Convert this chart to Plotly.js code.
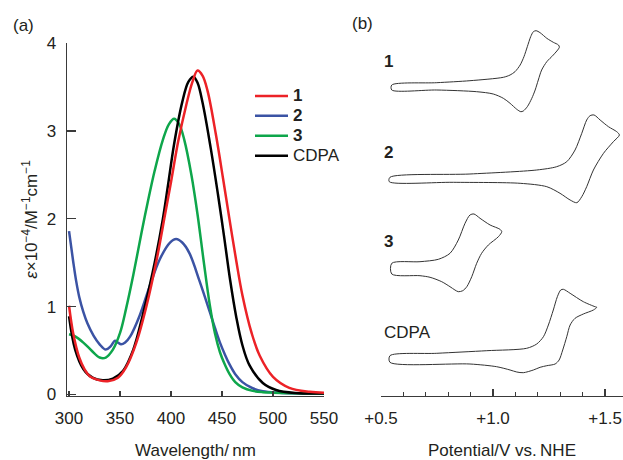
<!DOCTYPE html>
<html><head><meta charset="utf-8">
<script src="https://cdn.plot.ly/plotly-3.0.1.min.js"></script>
<style>html,body{margin:0;padding:0;background:#fff}</style>
</head><body><div id="chart" style="width:623px;height:460px"></div>
<script>
// ---------- Panel (a): absorption spectra (wavelength / nm, epsilon x 10^-4 / M^-1 cm^-1)
const wl1 = [300,304,310,315,320,330,338,348,356,366,376,386,394,400,407,415,421,426,431,436,444,451,457,464,470,479,487,500,516,536,550];
const eps1 = [1.01,0.70,0.42,0.29,0.21,0.16,0.15,0.19,0.31,0.59,1.01,1.54,2.04,2.42,2.88,3.30,3.56,3.69,3.63,3.45,2.96,2.46,2.02,1.52,1.13,0.70,0.44,0.20,0.075,0.03,0.02];
const wl2 = [300,304,307,310,314,318,324,330,336,341,345,348,351,355,360,369,379,389,399,405,411,418,428,438,443,448,453,457,463,470,480,490,506,550];
const eps2 = [1.86,1.52,1.29,1.11,0.94,0.81,0.67,0.57,0.51,0.55,0.61,0.59,0.57,0.59,0.66,0.89,1.23,1.54,1.73,1.77,1.73,1.61,1.29,0.94,0.76,0.59,0.45,0.35,0.23,0.14,0.07,0.035,0.02,0.01];
const wl3 = [300,306,314,322,330,336,343,350,356,363,371,377,384,392,398,403,408,413,420,426,432,438,443,448,452,457,463,470,480,490,500,550];
const eps3 = [0.685,0.66,0.59,0.50,0.42,0.42,0.51,0.70,0.98,1.36,1.84,2.18,2.55,2.90,3.08,3.14,3.08,2.90,2.50,2.05,1.52,1.02,0.70,0.48,0.36,0.24,0.14,0.08,0.04,0.025,0.02,0.01];
const wlC = [300,306,314,323,333,343,353,363,372,382,392,397,403,411,417,422,426,431,439,446,452,458,464,470,477,490,503,522,550];
const epsC = [0.89,0.51,0.29,0.19,0.16,0.18,0.27,0.51,0.89,1.39,2.00,2.38,2.85,3.33,3.56,3.62,3.55,3.32,2.80,2.28,1.80,1.30,0.88,0.56,0.33,0.13,0.05,0.015,0.01];
const seriesNames = ["1","2","3","CDPA"];
const wlTicks = [300,350,400,450,500,550];
const epsTicks = [0,1,2,3,4];

// ---------- Panel (b): cyclic voltammograms (potential / V vs NHE, current in arbitrary stacked units)
const cv1E = [0.548,0.749,0.897,1.046,1.076,1.098,1.121,1.138,1.153,1.168,1.180,1.192,1.210,1.240,1.269,1.292,1.296,1.269,1.240,1.217,1.202,1.188,1.173,1.153,1.135,1.124,1.106,1.076,1.046,1.001,0.927,0.749,0.548,0.548];
const cv1I = [31.07,31.30,31.50,31.84,32.07,32.40,33.07,33.90,34.90,35.90,36.40,36.50,36.30,35.74,35.34,35.07,34.84,34.07,33.40,32.57,31.57,30.57,29.74,28.90,28.47,28.40,28.64,29.24,29.74,30.17,30.40,30.57,30.57,31.07];
const cv2E = [0.540,0.897,1.195,1.284,1.329,1.366,1.396,1.418,1.433,1.451,1.478,1.515,1.552,1.564,1.537,1.493,1.448,1.418,1.396,1.374,1.344,1.299,1.240,1.121,0.823,0.537,0.540];
const cv2I = [21.84,22.17,22.57,22.90,23.40,24.57,26.24,27.57,28.00,28.07,27.57,26.90,26.40,26.07,25.40,24.24,22.57,20.90,19.90,19.30,19.57,20.24,20.90,21.24,21.34,21.40,21.84];
const cv3E = [0.548,0.674,0.756,0.808,0.845,0.875,0.897,0.915,0.942,0.987,1.031,1.039,1.024,0.979,0.949,0.927,0.905,0.883,0.865,0.845,0.830,0.808,0.771,0.719,0.674,0.548,0.548];
const cv3I = [13.24,13.40,13.64,14.24,15.57,17.24,18.07,18.17,17.74,17.07,16.64,16.40,15.90,15.07,14.24,13.24,11.90,10.90,10.50,10.40,10.57,10.90,11.40,11.84,12.00,12.17,13.24];
const cvCE = [0.540,0.749,0.972,1.150,1.195,1.225,1.247,1.269,1.287,1.302,1.314,1.344,1.403,1.455,1.463,1.448,1.403,1.366,1.344,1.329,1.311,1.295,1.277,1.240,1.210,1.180,1.135,1.106,1.076,1.016,0.897,0.540,0.540];
const cvCI = [4.00,4.24,4.50,4.74,5.17,5.90,7.07,8.57,9.90,10.57,10.64,10.24,9.40,8.90,8.84,8.57,8.17,7.74,7.07,5.90,4.57,3.57,3.17,3.00,2.84,2.57,2.30,2.37,2.57,2.90,3.17,3.34,4.00];
const cvLabels = ["1","2","3","CDPA"];
const cvLabelI = [33.4,24.3,15.4,6.3];
const potTicks = [0.5,1.0,1.5];
const potTickText = ["+0.5","+1.0","+1.5"];

const W = 623, H = 460;
const px = x => x / W, py = y => 1 - y / H;
const FONT = "Liberation Sans, Arial, Helvetica, sans-serif";
const TXT = "#231f20", AX = "#3a3a3a";

function legendLabel(n) {
  const t = n === "CDPA" ? n : "<b>" + n + "</b>";
  return '<span style="font-size:17px">' + t + '</span>';
}
function spec(x, y, name, color, rank) {
  return {x, y, name: legendLabel(name), type: "scatter", mode: "lines",
    line: {color, width: 2.5, shape: "spline", smoothing: 1}, xaxis: "x", yaxis: "y", legendrank: rank};
}
function cv(x, y) {
  return {x, y, type: "scatter", mode: "lines", showlegend: false, hoverinfo: "skip",
    line: {color: "#333", width: 1, shape: "spline", smoothing: 0.8}, xaxis: "x2", yaxis: "y2"};
}
const data = [
  spec(wl2, eps2, seriesNames[1], "#3b53a4", 2),
  spec(wl3, eps3, seriesNames[2], "#0ea64b", 3),
  spec(wlC, epsC, seriesNames[3], "#000000", 4),
  spec(wl1, eps1, seriesNames[0], "#ec2227", 1),
  cv(cv1E, cv1I), cv(cv2E, cv2I), cv(cv3E, cv3I), cv(cvCE, cvCI)
];

const annotations = [
  {text: "(a)", x: px(23), y: py(25), xref: "paper", yref: "paper", xanchor: "center", yanchor: "middle",
   showarrow: false, font: {size: 17, color: TXT}},
  {text: "(b)", x: px(362), y: py(23), xref: "paper", yref: "paper", xanchor: "center", yanchor: "middle",
   showarrow: false, font: {size: 17, color: TXT}}
];
cvLabels.forEach((t, i) => annotations.push({
  text: t === "CDPA" ? t : "<b>" + t + "</b>", x: 0.505, y: cvLabelI[i], xref: "x2", yref: "y2",
  xanchor: "left", yanchor: "middle", showarrow: false, font: {size: 17, color: TXT}
}));

const layout = {
  width: W, height: H, margin: {l: 0, r: 0, t: 0, b: 0},
  paper_bgcolor: "#fff", plot_bgcolor: "rgba(0,0,0,0)",
  font: {family: FONT, size: 17, color: TXT},
  xaxis: {domain: [px(67), px(324)], range: [298, 550], anchor: "y", tickvals: wlTicks,
    ticks: "inside", ticklen: 5, tickwidth: 1.3, tickcolor: AX, showline: true, linecolor: AX, linewidth: 1.5,
    showgrid: false, zeroline: false, ticklabelstandoff: 6, tickfont: {size: 17, color: TXT},
    title: {text: "Wavelength/\u2009nm", font: {size: 17, color: TXT}, standoff: 22}},
  yaxis: {domain: [py(395.7), py(43.3)], range: [-0.015, 4], anchor: "x", tickvals: epsTicks,
    ticks: "inside", ticklen: 9, tickwidth: 1.3, tickcolor: AX, showline: true, linecolor: AX, linewidth: 1.5,
    showgrid: false, zeroline: false, ticklabelstandoff: 6, tickfont: {size: 17, color: TXT},
    title: {text: "<i>ε</i>×10<sup>−4</sup>/M<sup>−1</sup>cm<sup>−1</sup>", font: {size: 17, color: TXT}, standoff: 4}},
  xaxis2: {domain: [px(381), 1], range: [0.5, 1.58], anchor: "y2", tickvals: potTicks, ticktext: potTickText,
    ticks: "inside", ticklen: 7, tickwidth: 1.3, tickcolor: AX, showline: true, linecolor: AX, linewidth: 1.5,
    minor: {dtick: 0.1, tick0: 0.5, ticks: "inside", ticklen: 4, tickwidth: 1.3, tickcolor: AX, showgrid: false},
    showgrid: false, zeroline: false, ticklabelstandoff: 6, tickfont: {size: 17, color: TXT},
    title: {text: "Potential/V vs.\u2009NHE", font: {size: 17, color: TXT}, standoff: 22}},
  yaxis2: {domain: [py(395.7), 1], range: [0, 39.57], anchor: "x2", visible: false},
  showlegend: true,
  legend: {x: px(250), y: py(81), xanchor: "left", yanchor: "top", bgcolor: "rgba(0,0,0,0)",
    font: {size: 13, color: TXT}, itemwidth: 33, tracegroupgap: 0},
  annotations
};
Plotly.newPlot("chart", data, layout, {staticPlot: true});
</script></body></html>
